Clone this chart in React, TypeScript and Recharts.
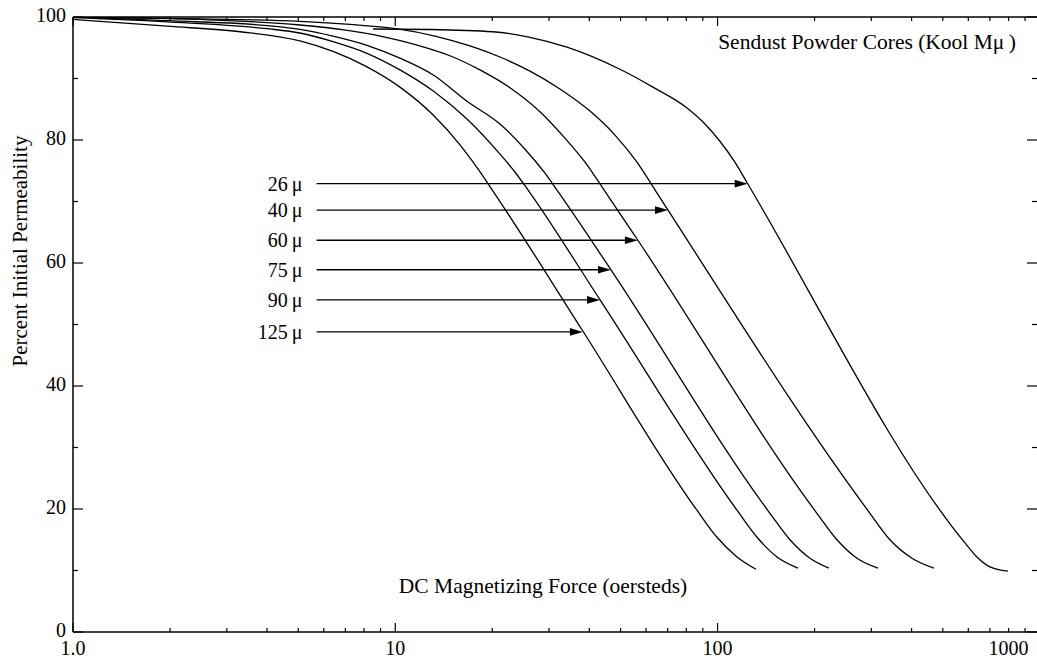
import React from "react";
import { LineChart, Line, XAxis, YAxis, ReferenceLine } from "recharts";

const FONT = '"Liberation Serif", "Times New Roman", serif';

// DC magnetizing force (oersteds) and percent initial permeability, per grade
const h26 = [8.53, 12.82, 20.1, 26.18, 34.1, 49.8, 63.0, 80.4, 91.4, 101.7, 113.2, 124.3, 585.7, 638, 700, 796];
const p26 = [98.05, 97.97, 97.6, 96.7, 95.1, 91.5, 88.6, 85.2, 82.6, 79.8, 76.4, 72.8, 14.5, 12.2, 10.6, 9.9];

const h40 = [1.0, 2.48, 5.06, 7.23, 10.05, 13.28, 17.05, 21.13, 26.18, 32.43, 40.2, 48.06, 56.23, 63.94, 70.2, 297.1, 342.6, 401.1, 469.2];
const p40 = [100, 99.7, 99.3, 98.8, 98.1, 96.9, 95.3, 93.5, 91.2, 88.3, 84.7, 80.8, 76.4, 71.9, 68.6, 19.3, 15.0, 12.0, 10.4];

const h60 = [1.0, 2.48, 5.06, 6.93, 8.97, 11.76, 14.78, 18.31, 22.69, 28.12, 33.61, 38.79, 44.42, 56.6, 203.4, 234.7, 270.7, 314.6];
const p60 = [100, 99.6, 98.7, 97.9, 96.9, 95.4, 93.7, 91.4, 88.5, 84.6, 80.3, 76.4, 71.9, 63.7, 19.3, 15.0, 12.0, 10.4];

const h75 = [1.0, 1.96, 4.0, 5.06, 6.41, 8.17, 10.34, 13.09, 16.69, 21.13, 25.26, 29.14, 32.2, 46.7, 145.4, 167.8, 193.5, 221.6];
const p75 = [100, 99.4, 98.6, 98.0, 96.9, 95.4, 93.3, 90.6, 86.3, 82.6, 78.5, 74.6, 71.4, 58.9, 19.3, 15.0, 12.0, 10.4];

const h90 = [1.0, 1.96, 4.0, 5.06, 6.41, 8.17, 10.34, 13.09, 16.69, 21.13, 23.51, 25.8, 43.2, 114.9, 132.6, 152.9, 177.6];
const p90 = [99.9, 99.2, 98.1, 97.4, 96.0, 94.1, 91.4, 88.0, 83.4, 77.7, 74.8, 71.9, 54.0, 19.8, 15.4, 12.2, 10.4];

const h125 = [1.0, 1.96, 3.3, 5.06, 6.41, 8.17, 10.34, 13.09, 15.88, 18.05, 20.1, 38.23, 86.3, 99.6, 114.9, 131.6];
const p125 = [99.6, 98.5, 97.6, 96.1, 94.4, 91.9, 88.6, 84.1, 79.2, 75.3, 71.7, 48.9, 19.8, 15.4, 12.2, 10.2];

// arrow callouts
const arrowLabels = ["26\u2009\u03bc", "40\u2009\u03bc", "60\u2009\u03bc", "75\u2009\u03bc", "90\u2009\u03bc", "125\u2009\u03bc"];
const arrowLevels = [72.9, 68.6, 63.7, 58.9, 54.0, 48.8];
const arrowTips = [124, 70.2, 56.6, 46.7, 43.2, 38.2];
const arrowTail = 5.7;

// axes
const xMax = 980;
const xTicks = [1, 2, 3, 4, 5, 6, 7, 8, 9, 10, 20, 30, 40, 50, 60, 70, 80, 90, 100, 200, 300, 400, 500, 600, 700, 800, 900];
const xMajor = [1, 10, 100];
const xTickLabels: Record<number, string> = { 1: "1.0", 10: "10", 100: "100", 800: "1000" };
const yTicks = [0, 10, 20, 30, 40, 50, 60, 70, 80, 90, 100];
const yTickLabels: Record<number, string> = { 0: "0", 20: "20", 40: "40", 60: "60", 80: "80", 100: "100" };

const series = [
    { name: "26", h: h26, p: p26 },
    { name: "40", h: h40, p: p40 },
    { name: "60", h: h60, p: p60 },
    { name: "75", h: h75, p: p75 },
    { name: "90", h: h90, p: p90 },
    { name: "125", h: h125, p: p125 },
].map((s) => ({ name: s.name, data: s.h.map((h, i) => ({ h, p: s.p[i] })) }));

const arrows = arrowLabels.map((label, i) => ({ label, y: arrowLevels[i], tip: arrowTips[i] }));

function BottomTick(props: any) {
    const { x, y, payload } = props;
    const v = payload.value;
    const len = xMajor.includes(v) ? 9 : 4;
    const label = xTickLabels[v];
    return (
        <g>
            <line x1={x} x2={x} y1={y} y2={y - len} stroke="#000" strokeWidth={1.2} />
            {label && (
                <text x={x} y={y + 23} textAnchor="middle" fontFamily={FONT} fontSize={20} fill="#000">
                    {label}
                </text>
            )}
        </g>
    );
}

function TopTick(props: any) {
    const { x, y, payload } = props;
    const len = xMajor.includes(payload.value) ? 9 : 4;
    return <line x1={x} x2={x} y1={y} y2={y + len} stroke="#000" strokeWidth={1.2} />;
}

function LeftTick(props: any) {
    const { x, y, payload } = props;
    const label = yTickLabels[payload.value];
    const len = label ? 10 : 5;
    return (
        <g>
            <line x1={x} x2={x + len} y1={y} y2={y} stroke="#000" strokeWidth={1.2} />
            {label && (
                <text x={x - 7} y={y - 2} dy="0.35em" textAnchor="end" fontFamily={FONT} fontSize={20} fill="#000">
                    {label}
                </text>
            )}
        </g>
    );
}

function RightTick(props: any) {
    const { x, y, payload } = props;
    const len = yTickLabels[payload.value] ? 10 : 5;
    return <line x1={x} x2={x - len} y1={y} y2={y} stroke="#000" strokeWidth={1.2} />;
}

function renderArrow(props: any, label: string) {
    const { x1, y1, x2, y2 } = props;
    return (
        <g>
            <line x1={x1} y1={y1} x2={x2 - 10} y2={y2} stroke="#000" strokeWidth={1.3} />
            <polygon points={`${x2},${y2} ${x2 - 13},${y2 - 3.8} ${x2 - 13},${y2 + 3.8}`} fill="#000" />
            <text x={x1 - 14} y={y1} dy="0.35em" textAnchor="end" fontFamily={FONT} fontSize={20} fill="#000">
                {label}
            </text>
        </g>
    );
}

export default function App() {
    return (
        <div style={{ position: "fixed", left: 0, top: 0, width: 1037, height: 665, overflow: "hidden", background: "#fff" }}>
            <LineChart width={1038} height={665} margin={{ top: 16, right: 0, bottom: 0, left: 0 }}>
                <XAxis
                    xAxisId="b"
                    type="number"
                    dataKey="h"
                    scale="log"
                    domain={[1, xMax]}
                    allowDataOverflow
                    ticks={xTicks}
                    interval={0}
                    height={33}
                    tickLine={false}
                    tickSize={0}
                    tickMargin={0}
                    axisLine={{ stroke: "#000", strokeWidth: 1.5 }}
                    tick={BottomTick}
                />
                <XAxis
                    xAxisId="t"
                    orientation="top"
                    type="number"
                    dataKey="h"
                    scale="log"
                    domain={[1, xMax]}
                    allowDataOverflow
                    ticks={xTicks}
                    interval={0}
                    height={1}
                    tickLine={false}
                    tickSize={0}
                    tickMargin={0}
                    axisLine={{ stroke: "#000", strokeWidth: 1.5 }}
                    tick={TopTick}
                />
                <YAxis
                    yAxisId="l"
                    type="number"
                    domain={[0, 100]}
                    allowDataOverflow
                    ticks={yTicks}
                    interval={0}
                    width={73}
                    tickLine={false}
                    tickSize={0}
                    tickMargin={0}
                    axisLine={{ stroke: "#000", strokeWidth: 1.5 }}
                    tick={LeftTick}
                />
                <YAxis
                    yAxisId="r"
                    orientation="right"
                    type="number"
                    domain={[0, 100]}
                    allowDataOverflow
                    ticks={yTicks}
                    interval={0}
                    width={1}
                    tickLine={false}
                    tickSize={0}
                    tickMargin={0}
                    axisLine={false}
                    tick={RightTick}
                />
                {series.map((s) => (
                    <Line
                        key={s.name}
                        xAxisId="b"
                        yAxisId="l"
                        data={s.data}
                        dataKey="p"
                        type="monotone"
                        stroke="#000"
                        strokeWidth={1.3}
                        dot={false}
                        activeDot={false}
                        isAnimationActive={false}
                    />
                ))}
                {arrows.map((a) => (
                    <ReferenceLine
                        key={a.label}
                        xAxisId="b"
                        yAxisId="l"
                        segment={[
                            { x: arrowTail, y: a.y },
                            { x: a.tip, y: a.y },
                        ]}
                        shape={(p: any) => renderArrow(p, a.label)}
                    />
                ))}
            </LineChart>
            <svg width={1037} height={665} style={{ position: "absolute", left: 0, top: 0, pointerEvents: "none" }}>
                <text x={867} y={49} textAnchor="middle" fontFamily={FONT} fontSize={21.5} fill="#000">
                    Sendust Powder Cores (Kool M{"\u03bc\u2009"})
                </text>
                <text x={543} y={593} textAnchor="middle" fontFamily={FONT} fontSize={21.5} fill="#000">
                    DC Magnetizing Force (oersteds)
                </text>
                <text
                    transform="translate(27,251) rotate(-90)"
                    textAnchor="middle"
                    fontFamily={FONT}
                    fontSize={21}
                    fill="#000"
                >
                    Percent Initial Permeability
                </text>
            </svg>
        </div>
    );
}
